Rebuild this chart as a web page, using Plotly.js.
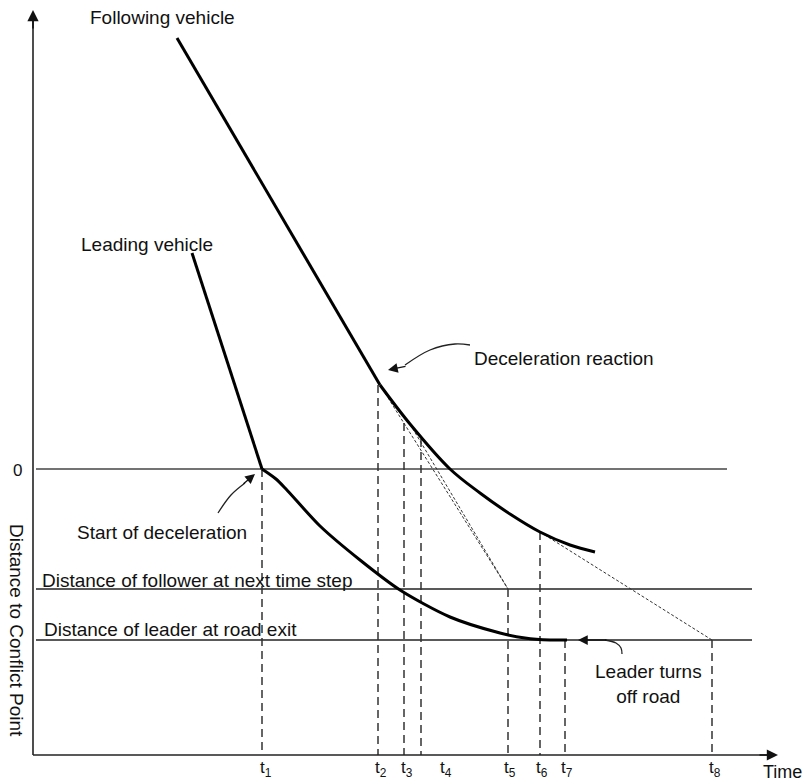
<!DOCTYPE html>
<html>
<head>
<meta charset="utf-8">
<script src="https://cdn.plot.ly/plotly-3.0.1.min.js"></script>
<style>html,body{margin:0;padding:0;background:#fff;}#chart{width:809px;height:784px;}</style>
</head>
<body>
<div id="chart"></div>
<script>
// ---- data (time units along x, distance to conflict point along y; 0 = conflict point) ----
const followerStraightX = [144, 347];
const followerStraightY = [431, 84];
const followerCurveX = [347, 377, 417, 447, 477, 507, 537, 562];
const followerCurveY = [84, 45, 0, -24, -45, -63, -76, -83];

const leaderStraightX = [159, 229];
const leaderStraightY = [216, 0];
const leaderCurveX = [229, 243, 253, 287, 327, 367, 417, 467, 492, 517, 534];
const leaderCurveY = [0, -10, -20, -57, -91, -121, -148, -164, -169, -171, -171];

const zeroLevel = 0;
const followerNextLevel = -120;
const leaderExitLevel = -171;
const levelStartX = 3;
const zeroLineEndX = 694;
const levelLineEndX = 719;

const axisBottom = -286;
const axisTopY = 459;
const axisRightX = 745;

// vertical dashed time markers
const tLineX = [229, 345, 371, 388, 475, 507, 532, 679];
const tLineTop = [0, 84, 46, 30, -120, -63, -171, -171];
const tLabelX = [233, 348, 374, 413, 477, 509, 534, 682];
const tLabels = ['t<sub>1</sub>', 't<sub>2</sub>', 't<sub>3</sub>', 't<sub>4</sub>', 't<sub>5</sub>', 't<sub>6</sub>', 't<sub>7</sub>', 't<sub>8</sub>'];

// projection (dotted) lines
const projA_X = [347, 475], projA_Y = [84, -120];
const projB_X = [377, 475], projB_Y = [45, -120];
const projC_X = [507, 679], projC_Y = [-63, -171];

// curved pointer arrows
const decelArrowX = [437, 422, 397, 372], decelArrowY = [124, 125, 119, 104];
const decelHead = {x: 355, y: 99, ax: 374, ay: 103};
const startArrowX = [185, 198, 212], startArrowY = [-44, -26, -14];
const startHead = {x: 222, y: -5, ax: 209, ay: -16};
const exitArrowX = [589, 588, 583, 572], exitArrowY = [-185, -179, -174, -171];
const exitHead = {x: 545, y: -171, ax: 575, ay: -171};

const textFont = {family: 'Liberation Sans, Arial, sans-serif', size: 19, color: '#111'};

const traces = [];
function line(x, y, opts) {
  traces.push(Object.assign({type: 'scatter', mode: 'lines', x: x, y: y, hoverinfo: 'skip'}, opts));
}
// horizontal reference levels
line([levelStartX, zeroLineEndX], [zeroLevel, zeroLevel], {line: {color: '#444', width: 1.6}});
line([levelStartX, levelLineEndX], [followerNextLevel, followerNextLevel], {line: {color: '#222', width: 1.4}});
line([levelStartX, levelLineEndX], [leaderExitLevel, leaderExitLevel], {line: {color: '#222', width: 1.4}});
// dashed time markers
for (let i = 0; i < tLineX.length; i++) {
  line([tLineX[i], tLineX[i]], [tLineTop[i], axisBottom], {line: {color: '#333', width: 1.5, dash: '8px,5px'}});
}
// dotted projections
[[projA_X, projA_Y], [projB_X, projB_Y], [projC_X, projC_Y]].forEach(p => {
  line(p[0], p[1], {line: {color: '#333', width: 1, dash: '3px,2px'}});
});
// vehicle trajectories
line(followerStraightX, followerStraightY, {line: {color: '#000', width: 3}});
line(followerCurveX, followerCurveY, {line: {color: '#000', width: 3, shape: 'spline', smoothing: 1}});
line(leaderStraightX, leaderStraightY, {line: {color: '#000', width: 3}});
line(leaderCurveX, leaderCurveY, {line: {color: '#000', width: 3, shape: 'spline', smoothing: 0.8}});
// axes
line([0, 0], [axisBottom, axisTopY - 8], {line: {color: '#222', width: 1.6}});
line([0, axisRightX - 8], [axisBottom, axisBottom], {line: {color: '#222', width: 1.6}});
// pointer shafts
line(decelArrowX, decelArrowY, {line: {color: '#222', width: 1.3, shape: 'spline'}});
line(startArrowX, startArrowY, {line: {color: '#222', width: 1.3, shape: 'spline'}});
line(exitArrowX, exitArrowY, {line: {color: '#222', width: 1.3, shape: 'spline'}});

const ann = [];
function text(x, y, t, extra) {
  ann.push(Object.assign({x: x, y: y, xref: 'x', yref: 'y', text: t, showarrow: false, font: textFont}, extra || {}));
}
function arrow(h, w, size) {
  ann.push({x: h.x, y: h.y, ax: h.ax, ay: h.ay, axref: 'x', ayref: 'y', xref: 'x', yref: 'y', text: '',
    showarrow: true, arrowhead: 2, arrowsize: size, arrowwidth: w, arrowcolor: '#111'});
}
arrow({x: 0, y: axisTopY, ax: 0, ay: axisTopY - 20}, 1.6, 1.4);
arrow({x: axisRightX, y: axisBottom, ax: axisRightX - 20, ay: axisBottom}, 1.6, 1.4);
arrow(decelHead, 1.3, 1.5);
arrow(startHead, 1.3, 1.5);
arrow(exitHead, 1.3, 1.5);

text(129, 452, 'Following vehicle');
text(114, 225, 'Leading vehicle');
text(531, 111, 'Deceleration reaction');
text(129, -63, 'Start of deceleration');
text(7, -111, 'Distance of follower at next time step', {xanchor: 'left'});
text(9, -160, 'Distance of leader at road exit', {xanchor: 'left'});
text(615, -215, 'Leader turns<br>off road', {align: 'center'});
text(-16, -1, '0', {font: Object.assign({}, textFont, {size: 17})});
text(-16, -161, 'Distance to Conflict Point', {textangle: 90});
text(728, -303, 'Time', {xanchor: 'left', font: Object.assign({}, textFont, {size: 18})});
for (let i = 0; i < tLabels.length; i++) {
  text(tLabelX[i], -300, tLabels[i], {font: Object.assign({}, textFont, {size: 17})});
}

const layout = {
  width: 809, height: 784,
  margin: {l: 0, r: 0, t: 0, b: 0},
  paper_bgcolor: '#fff', plot_bgcolor: '#fff',
  showlegend: false,
  xaxis: {range: [-33, 776], visible: false, fixedrange: true},
  yaxis: {range: [-315, 469], visible: false, fixedrange: true},
  annotations: ann
};
Plotly.newPlot('chart', traces, layout, {staticPlot: true});
</script>
</body>
</html>
